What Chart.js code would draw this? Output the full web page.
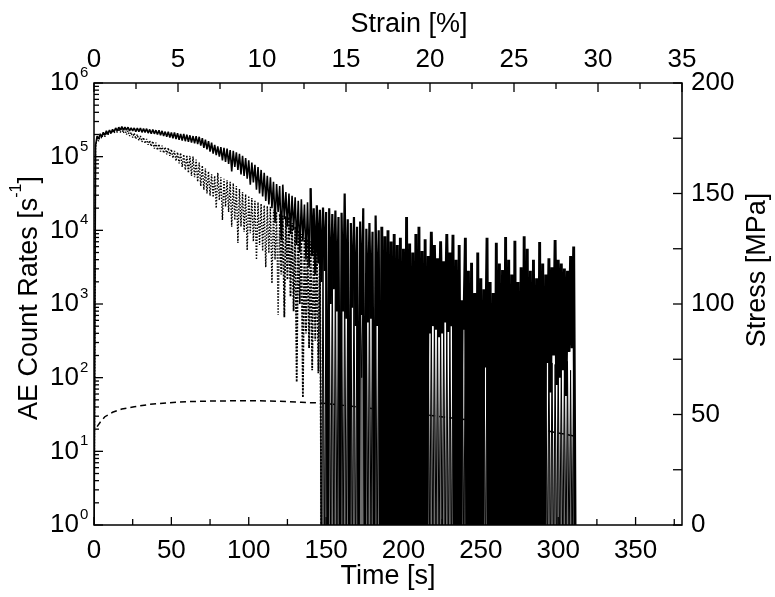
<!DOCTYPE html>
<html>
<head>
<meta charset="utf-8">
<script src="https://cdn.jsdelivr.net/npm/chart.js@4.4.1/dist/chart.umd.min.js"></script>
<style>
  html, body { margin: 0; padding: 0; background: #fff; }
</style>
</head>
<body>
<canvas id="chart" width="775" height="597"></canvas>
<script>
// AE count rates (log10 of counts/s).
// -1 marks a reading of zero counts (drawn below the 10^0 floor).
// "Even" readings sit at t = 0, 2, 4 ... s, "odd" readings at t = 1, 3, 5 ... s.
const sampleStep = 1; // s between readings

const solidEven = [
  -1, 5.28, 5.31, 5.33, 5.35, 5.36, 5.37, 5.39, 5.40, 5.41,
  5.40, 5.40, 5.39, 5.39, 5.39, 5.39, 5.38, 5.38, 5.37, 5.37,
  5.36, 5.36, 5.35, 5.34, 5.34, 5.33, 5.33, 5.32, 5.31, 5.31,
  5.30, 5.29, 5.28, 5.28, 5.27, 5.25, 5.23, 5.21, 5.19, 5.16,
  5.14, 5.13, 5.12, 5.11, 5.09, 5.08, 5.06, 5.04, 5.01, 4.98,
  4.95, 4.92, 4.89, 4.86, 4.82, 4.78, 4.74, 4.72, 4.66, 4.63,
  4.60, 4.62, 4.52, 4.50, 4.47, 4.45, 4.40, 4.42, 4.35, 4.38,
  4.57, 4.30, 4.34, 4.28, 4.31, 4.25, 4.30, 4.22, 4.27, 4.18,
  4.24, 4.50, 4.15, 4.10, 4.18, 4.05, 4.12, 4.30, 4.02, 4.10,
  3.98, 4.20, 4.00, 4.05, 3.92, 4.00, 3.85, 3.95, 3.80, 3.90,
  3.75, 4.18, 3.82, 3.70, 3.95, 4.05, 3.72, 3.88, 3.65, 3.98,
  3.80, 3.62, 3.85, 3.58, 3.95, 3.70, 3.94, 3.60, 3.80, 3.05,
  3.90, 3.45, 3.56, 3.15, 3.70, 3.35, 3.20, 3.90, 3.30, 3.15,
  3.83, 3.55, 3.46, 3.91, 3.60, 3.40, 3.86, 3.30, 3.50, 3.92,
  3.75, 3.45, 3.60, 3.35, 3.84, 3.55, 3.40, 3.62, 3.50, 3.87,
  3.60, 3.55, 3.48, 3.45, 3.65, 3.78
];
const solidOdd = [
  5.15, 5.24, 5.27, 5.29, 5.31, 5.32, 5.34, 5.35, 5.36, 5.36,
  5.36, 5.35, 5.35, 5.34, 5.34, 5.33, 5.33, 5.32, 5.31, 5.31,
  5.30, 5.29, 5.28, 5.27, 5.26, 5.25, 5.24, 5.23, 5.22, 5.21,
  5.20, 5.19, 5.18, 5.17, 5.15, 5.12, 5.10, 5.07, 5.04, 5.02,
  5.00, 4.95, 4.93, 4.90, 4.80, 4.86, 4.82, 4.76, 4.74, 4.70,
  4.62, 4.65, 4.55, 4.50, 4.46, 4.40, 4.35, 4.30, 4.10, 4.25,
  3.87, 4.15, 4.05, 3.95, 4.00, 3.80, 3.70, 3.85, 3.60, 3.50,
  3.65, 3.40, 3.55, 3.30, 3.45, -1, 3.00, 3.20, 2.90, -1,
  2.90, 2.80, -1, 2.95, 2.70, -1, 2.85, -1, 2.75, 2.80,
  -1, 2.70, -1, -1, -1, -1, -1, -1, -1, -1,
  -1, -1, -1, -1, -1, -1, -1, -1, 2.60, 2.70,
  2.65, 2.55, 2.60, 2.75, 2.62, 2.70, -1, -1, -1, 2.65,
  -1, -1, -1, -1, -1, -1, 2.14, -1, -1, -1,
  -1, -1, -1, -1, -1, -1, -1, -1, -1, -1,
  -1, -1, -1, -1, -1, -1, 2.20, 1.80, 2.30, 1.90,
  2.00, 2.10, 1.75, 2.35, 2.40, -1
];
const dottedEven = [
  -1, 5.26, 5.29, 5.31, 5.33, 5.35, 5.36, 5.37, 5.38, 5.38,
  5.37, 5.35, 5.33, 5.32, 5.30, 5.28, 5.26, 5.24, 5.22, 5.21,
  5.19, 5.17, 5.15, 5.13, 5.12, 5.10, 5.08, 5.06, 5.05, 5.03,
  5.02, 5.01, 5.00, 4.96, 4.92, 4.88, 4.84, 4.80, 4.76, 4.74,
  4.78, 4.72, 4.70, 4.68, 4.66, 4.64, 4.60, 4.56, 4.52, 4.49,
  4.47, 4.44, 4.40, 4.38, 4.36, 4.34, 4.33, 4.32, 4.28, 4.25,
  4.22, 4.20, 4.19, 4.18, 4.10, 4.05, 4.00, 3.95, 3.90, 3.88,
  3.85, 3.82, 3.80, 3.76, 3.72, 3.70, 3.68, 3.65, 3.62, 3.60,
  3.57, 3.55, 3.52, 3.50, 3.48, 3.45, 3.42, 3.40, 3.38, 3.35,
  3.33, 3.30, 3.28, 3.25, 3.22, 3.30, 3.18, 3.15, 3.25, 3.10,
  3.08, 3.15, 3.03, 3.00, 3.10, 2.95, 2.93, 3.05, 2.88, 2.86,
  2.95, 2.82, 2.80, 2.90, 2.76, 2.74, 2.85, 2.70, 2.68, 2.66,
  2.75, 2.64, 2.62, 2.70, 2.60, 2.58, 2.66, 2.55, 2.53, 2.60,
  2.50, 2.48, 2.56, 2.45, 2.43, 2.52, 2.40, 2.38, 2.48, 2.35,
  2.33, 2.42, 2.30, 2.28, 2.38, 2.25, 2.23, 2.34, 2.20, 2.18,
  2.28, 2.15, 2.13, 2.22, 2.10, 2.40
];
const dottedOdd = [
  5.12, 5.21, 5.25, 5.27, 5.29, 5.31, 5.32, 5.33, 5.33, 5.32,
  5.30, 5.28, 5.26, 5.24, 5.22, 5.20, 5.18, 5.16, 5.14, 5.11,
  5.09, 5.07, 5.05, 5.03, 5.01, 4.98, 4.94, 4.91, 4.86, 4.82,
  4.78, 4.74, 4.72, 4.66, 4.60, 4.55, 4.50, 4.47, 4.45, 4.30,
  4.41, 4.14, 4.32, 4.25, 4.05, 4.14, 3.83, 4.05, 3.98, 3.73,
  3.96, 3.85, 3.60, 3.80, 3.72, 3.50, 3.69, 3.28, 3.60, 2.85,
  3.40, 2.82, 3.33, 3.10, 2.90, 1.94, 3.00, 1.73, 2.60, 2.40,
  2.10, 2.50, 2.06, -1, -1, -1, -1, -1, -1, -1,
  -1, -1, 1.60, -1, -1, -1, 2.00, -1, -1, -1,
  -1, -1, -1, 1.50, -1, -1, -1, -1, 1.80, -1,
  -1, -1, -1, -1, -1, 1.70, -1, -1, -1, -1,
  -1, -1, -1, -1, -1, -1, -1, -1, -1, -1,
  -1, 1.60, -1, -1, -1, -1, -1, -1, -1, -1,
  -1, -1, -1, -1, -1, -1, -1, -1, -1, -1,
  -1, -1, -1, -1, -1, -1, -1, -1, -1, -1,
  -1, -1, -1, -1, -1, -1
];
// index (in the even/odd lists) from which the dotted record keeps dropping to zero
const dottedZeroFrom = 73;

// stress curve (right axis)
const stressTime = [2, 4, 7, 12, 18, 26, 36, 48, 60, 75, 91, 105, 120, 134, 146, 170, 200, 230, 260, 290, 312];
const stressMPa = [44.5, 46.5, 49, 51, 52.5, 53.5, 54.6, 55.3, 55.8, 56.1, 56.2, 56.2, 56.0, 55.5, 55.2, 53.5, 51, 48.5, 46, 43, 40];

// axis ticks
const timeTicks = [0, 50, 100, 150, 200, 250, 300, 350];
const timeMinor = [25, 75, 125, 175, 225, 275, 325, 375];
const strainTicks = [0, 5, 10, 15, 20, 25, 30, 35];
const strainMinor = [2.5, 7.5, 12.5, 17.5, 22.5, 27.5, 32.5];
const stressTicks = [0, 50, 100, 150, 200];
const stressMinor = [25, 75, 125, 175];
const decades = [0, 1, 2, 3, 4, 5, 6];

const FONT = '"Liberation Sans", Arial, sans-serif';

function toRate(e) {
  return e < 0 ? 0.3 : Math.pow(10, e);
}
function trace(even, odd) {
  const pts = [];
  for (let i = 0; i < even.length; i++) {
    pts.push({x: 2 * i * sampleStep, y: toRate(even[i])});
    pts.push({x: (2 * i + 1) * sampleStep, y: toRate(odd[i])});
  }
  return pts;
}

const frame = {
  id: 'frame',
  afterDatasetsDraw(chart) {
    const {ctx, chartArea: a} = chart;
    const sx = chart.scales.x, sx2 = chart.scales.x2;
    const sy = chart.scales.y, sy2 = chart.scales.y2;
    const line = (x1, y1, x2, y2) => {
      ctx.beginPath(); ctx.moveTo(x1, y1); ctx.lineTo(x2, y2); ctx.stroke();
    };
    ctx.save();
    ctx.strokeStyle = '#000';
    ctx.fillStyle = '#000';
    ctx.setLineDash([]);
    ctx.lineWidth = 1.5;
    ctx.strokeRect(a.left, a.top, a.right - a.left, a.bottom - a.top);

    // tick marks, all pointing inward
    ctx.lineWidth = 1.3;
    timeTicks.forEach(v => { const x = sx.getPixelForValue(v); line(x, a.bottom, x, a.bottom - 8); });
    timeMinor.forEach(v => { const x = sx.getPixelForValue(v); line(x, a.bottom, x, a.bottom - 6); });
    strainTicks.forEach(v => { const x = sx2.getPixelForValue(v); line(x, a.top, x, a.top + 9); });
    strainMinor.forEach(v => { const x = sx2.getPixelForValue(v); line(x, a.top, x, a.top + 6); });
    stressTicks.concat(stressMinor).forEach(v => {
      const y = sy2.getPixelForValue(v); line(a.right, y, a.right - 9, y);
    });
    decades.forEach(e => {
      const y = sy.getPixelForValue(Math.pow(10, e));
      line(a.left, y, a.left + 9, y);
      if (e < 6) {
        for (let k = 2; k <= 9; k++) {
          const ym = sy.getPixelForValue(k * Math.pow(10, e));
          line(a.left, ym, a.left + 5, ym);
        }
      }
    });

    // tick labels
    ctx.font = '26px ' + FONT;
    ctx.textAlign = 'center';
    ctx.textBaseline = 'alphabetic';
    timeTicks.forEach(v => ctx.fillText(String(v), sx.getPixelForValue(v), a.bottom + 33));
    strainTicks.forEach(v => ctx.fillText(String(v), sx2.getPixelForValue(v), a.top - 16));
    ctx.textAlign = 'left';
    ctx.textBaseline = 'middle';
    stressTicks.forEach(v => ctx.fillText(String(v), a.right + 9, sy2.getPixelForValue(v)));
    decades.forEach(e => {
      const y = sy.getPixelForValue(Math.pow(10, e));
      ctx.font = '26px ' + FONT;
      ctx.textAlign = 'right';
      ctx.textBaseline = 'middle';
      ctx.fillText('10', a.left - 15, y);
      ctx.font = '15px ' + FONT;
      ctx.textAlign = 'left';
      ctx.textBaseline = 'alphabetic';
      ctx.fillText(String(e), a.left - 14, y - 6);
    });

    // axis titles
    ctx.font = '27px ' + FONT;
    ctx.textAlign = 'center';
    ctx.textBaseline = 'alphabetic';
    ctx.fillText('Time [s]', (a.left + a.right) / 2, a.bottom + 59);
    ctx.fillText('Strain [%]', 409, 32);

    // left title with superscript
    ctx.save();
    ctx.translate(37, 298);
    ctx.rotate(-Math.PI / 2);
    const p1 = 'AE Count Rates [s', p2 = '-1', p3 = ']';
    ctx.font = '27px ' + FONT;
    const w1 = ctx.measureText(p1).width, w3 = ctx.measureText(p3).width;
    ctx.font = '16px ' + FONT;
    const w2 = ctx.measureText(p2).width;
    let x0 = -(w1 + w2 + w3) / 2;
    ctx.textAlign = 'left';
    ctx.font = '27px ' + FONT;
    ctx.fillText(p1, x0, 0);
    ctx.font = '16px ' + FONT;
    ctx.fillText(p2, x0 + w1, -16);
    ctx.font = '27px ' + FONT;
    ctx.fillText(p3, x0 + w1 + w2, 0);
    ctx.restore();

    // right title
    ctx.save();
    ctx.translate(765, 270);
    ctx.rotate(-Math.PI / 2);
    ctx.font = '27px ' + FONT;
    ctx.textAlign = 'center';
    ctx.fillText('Stress [MPa]', 0, 0);
    ctx.restore();

    ctx.restore();
  }
};

// the late, dense part of the solid record prints as a near-solid black mass
function solidWidth(c) {
  const t = c.p0.parsed.x;
  if (t >= 185) return 2.9;
  if (t >= 140) return 2.2;
  return undefined;
}

const dottedPts = trace(dottedEven, dottedOdd);
const ctx = document.getElementById('chart').getContext('2d');

new Chart(ctx, {
  type: 'line',
  data: {
    datasets: [
      {
        label: 'AE rate (solid)',
        data: trace(solidEven, solidOdd),
        xAxisID: 'x', yAxisID: 'y',
        borderColor: '#000', borderWidth: 1.6,
        borderJoinStyle: 'bevel',
        segment: { borderWidth: solidWidth },
        pointRadius: 0, tension: 0, fill: false
      },
      {
        label: 'AE rate (dotted)',
        data: dottedPts.slice(0, 2 * dottedZeroFrom + 2),
        xAxisID: 'x', yAxisID: 'y',
        borderColor: '#000', borderWidth: 1.4,
        borderDash: [1.5, 1.5],
        borderJoinStyle: 'bevel',
        segment: {
          borderWidth: c => (c.p0.parsed.x >= 120 ? 1.8 : undefined),
          borderDash: c => (c.p0.parsed.x >= 120 ? [2, 1.3] : undefined)
        },
        pointRadius: 0, tension: 0, fill: false
      },
      {
        // crowded part of the dotted record: prints as a dark grey speckle
        label: 'AE rate (dotted, crowded part)',
        data: dottedPts.slice(2 * dottedZeroFrom),
        xAxisID: 'x', yAxisID: 'y',
        borderColor: '#000', borderWidth: 1.0,
        borderJoinStyle: 'bevel',
        backgroundColor: '#6e6e6e',
        fill: 'start',
        pointRadius: 0, tension: 0
      },
      {
        label: 'Stress',
        data: stressTime.map((t, i) => ({x: t, y: stressMPa[i]})),
        xAxisID: 'x', yAxisID: 'y2',
        borderColor: '#000', borderWidth: 1.5,
        borderDash: [6, 4],
        pointRadius: 0, tension: 0, fill: false
      }
    ]
  },
  options: {
    responsive: false,
    animation: false,
    events: [],
    layout: { padding: { left: 94, right: 93, top: 83, bottom: 72 } },
    plugins: { legend: { display: false }, tooltip: { enabled: false } },
    scales: {
      x: { type: 'linear', min: 0, max: 380, display: false },
      x2: { type: 'linear', position: 'top', min: 0, max: 35, display: false },
      y: { type: 'logarithmic', min: 1, max: 1e6, display: false },
      y2: { type: 'linear', position: 'right', min: 0, max: 200, display: false }
    }
  },
  plugins: [frame]
});
</script>
</body>
</html>
